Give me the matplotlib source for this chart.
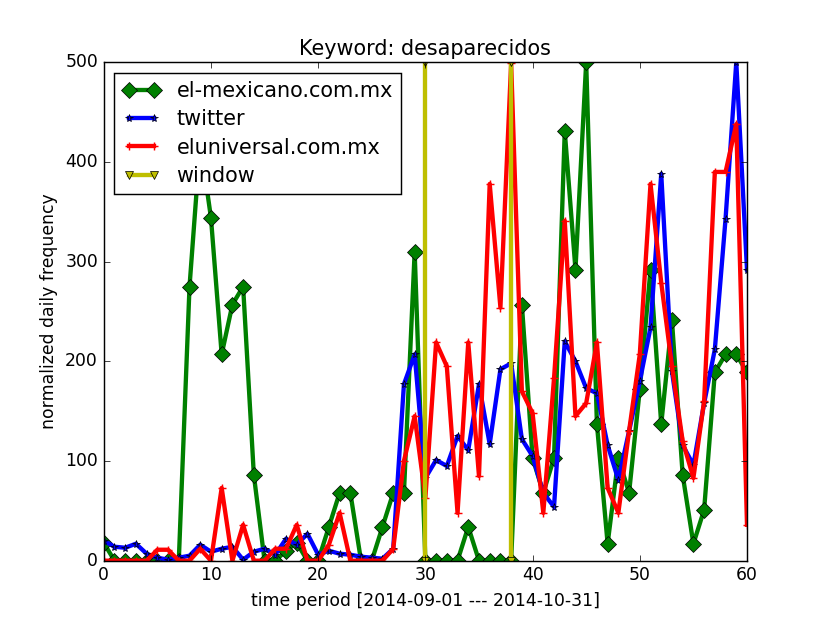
import matplotlib

matplotlib.use("Agg")
import matplotlib.pyplot as plt

plt.style.use("classic")

days = list(range(61))

el_mexicano = [18, 0, 0, 0, 0, 0, 0, 0, 275, 420,
               344, 207, 257, 275, 86, 0, 0, 10, 18, 0,
               0, 34, 68, 68, 0, 0, 34, 68, 68, 310,
               0, 0, 0, 0, 34, 0, 0, 0, 0, 257,
               103, 68, 103, 431, 292, 500, 137, 17, 103, 68,
               172, 292, 137, 241, 86, 17, 51, 189, 207, 207,
               189]

twitter = [20, 14, 13, 17, 7, 3, 1, 3, 5, 16,
           9, 12, 14, 1, 9, 12, 6, 22, 16, 27,
           6, 10, 7, 6, 4, 3, 2, 12, 177, 207,
           83, 101, 95, 125, 111, 177, 117, 192, 198, 122,
           105, 68, 54, 220, 200, 173, 168, 116, 81, 130,
           180, 234, 388, 190, 116, 96, 158, 212, 343, 500,
           292]

eluniversal = [0, 0, 0, 0, 0, 11, 11, 0, 0, 12,
               0, 73, 0, 36, 0, 0, 12, 12, 36, 0,
               0, 16, 48, 0, 0, 0, 0, 12, 100, 145,
               63, 219, 195, 48, 219, 85, 378, 254, 499, 170,
               148, 48, 183, 341, 145, 158, 219, 73, 48, 130,
               207, 378, 279, 195, 120, 83, 160, 390, 390, 438,
               36]

window_start, window_end = 30, 38
window_y = [0, 500]

# 8x6 inch classic figure, rendered a bit above 100 dpi -> 830x623
DPI = 103.75
fig = plt.figure(figsize=(8, 6.005), dpi=DPI)
ax = fig.add_subplot(111)

ax.plot(days, el_mexicano, "gD-", lw=3, ms=7.5, label="el-mexicano.com.mx")
ax.plot(days, twitter, "b*-", lw=3, ms=5.5, label="twitter")
ax.plot(days, eluniversal, "r+-", lw=3, ms=6, mew=1, label="eluniversal.com.mx")
ax.plot([window_start, window_start], window_y, "yv-", lw=3, ms=6,
        label="window")
ax.plot([window_end, window_end], window_y, "yv-", lw=3, ms=6)

ax.set_xlim(0, 60)
ax.set_ylim(0, 500)
ax.set_title("Keyword: desaparecidos")
ax.set_xlabel("time period [2014-09-01 --- 2014-10-31]")
ax.set_ylabel("normalized daily frequency")
ax.legend(loc="upper left", labelspacing=0.4, handlelength=1.8)

fig.savefig("out.png", dpi=DPI)
